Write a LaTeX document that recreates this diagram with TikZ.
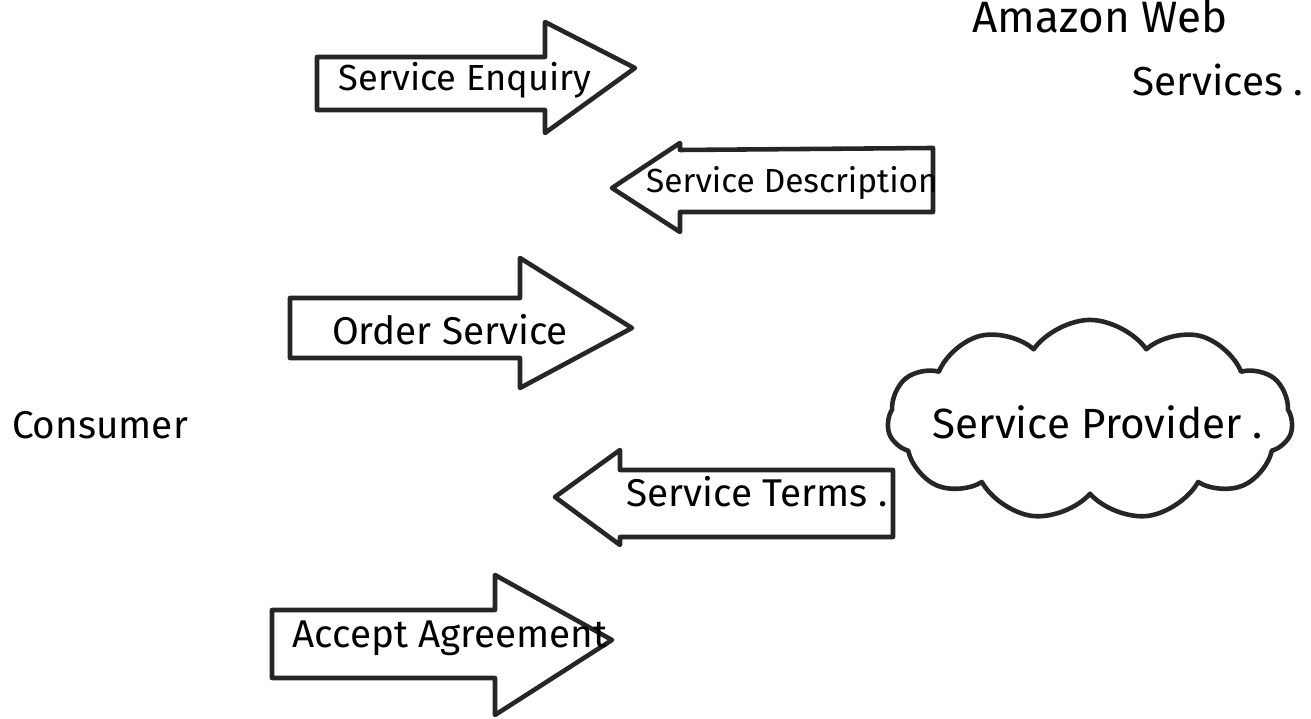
\documentclass[tikz,border=0pt]{standalone}
\usepackage{fontspec}
\setmainfont{Fira Sans}
\usetikzlibrary{shapes.symbols}
\begin{document}
\begin{tikzpicture}[x=0.01cm,y=-0.01cm,
  ink/.style={draw=black!85, line width=1.3pt, line join=round, line cap=round},
  lbl/.style={font=\fontsize{11}{13}\selectfont, inner sep=0pt}]
\useasboundingbox (0,0) rectangle (1311,719);
\fill[white] (0,0) rectangle (1311,719);

% block arrows drawn as outlines
\draw[ink] (317,57) -- (545,57) -- (545,22) -- (635,68) -- (545,133) -- (545,110) -- (317,110) -- cycle;
\node[lbl, font=\fontsize{10.3}{12}\selectfont] (enq) at (465,80) {Service Enquiry};

\draw[ink] (933,148) -- (680,150) -- (680,143) -- (612,188) -- (680,232) -- (680,212) -- (933,212) -- cycle;
\node[lbl, font=\fontsize{9.5}{11}\selectfont] (desc) at (792,183) {Service Description};

\draw[ink] (290,298) -- (520,298) -- (520,258) -- (632,328) -- (520,388) -- (520,358) -- (290,358) -- cycle;
\node[lbl] (order) at (450,330) {Order Service};

\draw[ink] (893,470) -- (620,470) -- (620,450) -- (555,497) -- (620,545) -- (620,537) -- (893,537) -- cycle;
\node[lbl] (terms) at (757,492) {Service Terms .};

\draw[ink] (272,610) -- (495,610) -- (495,575) -- (612,640) -- (495,715) -- (495,678) -- (272,678) -- cycle;
\node[lbl] (accept) at (450,638) {Accept Agreement};

% provider cloud
\node[cloud, ink, cloud puffs=11, cloud puff arc=110, aspect=2.2,
      minimum width=4.05cm, minimum height=2.0cm, inner sep=0pt] (prov) at (1090,420) {};
\node[lbl, font=\fontsize{12}{14}\selectfont] (provtxt) at (1098,422) {Service Provider .};

% free labels
\node[lbl] (cons) at (100,425) {Consumer};
\node[lbl, font=\fontsize{12.5}{14}\selectfont] (aws) at (1100,16) {Amazon Web};
\node[lbl, font=\fontsize{11.5}{14}\selectfont] (svc) at (1218,80) {Services .};
\end{tikzpicture}
\end{document}
